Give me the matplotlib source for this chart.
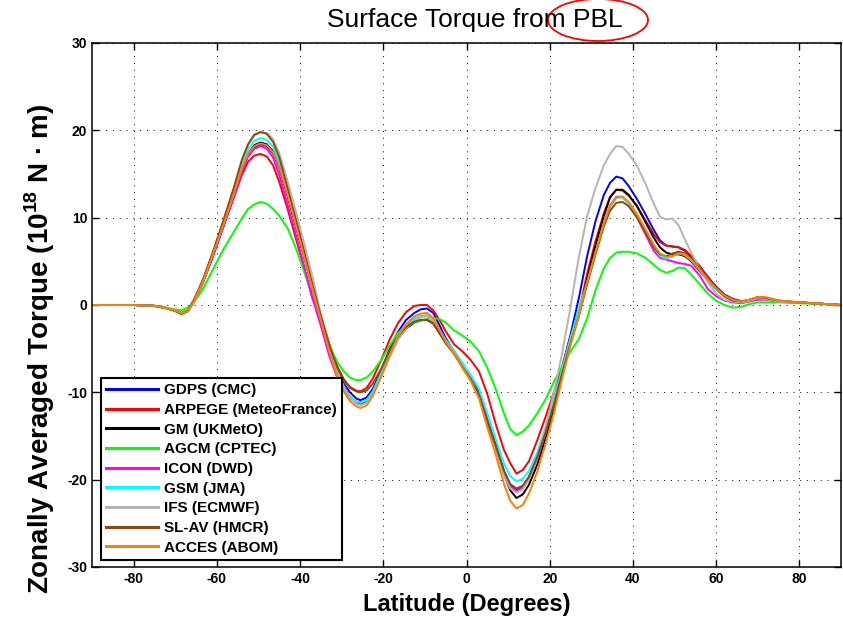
import matplotlib
matplotlib.use("Agg")
import matplotlib.pyplot as plt
from matplotlib.patches import Ellipse

plt.rcParams['font.family'] = ['Liberation Sans', 'DejaVu Sans']
plt.rcParams['mathtext.fontset'] = 'custom'
plt.rcParams['mathtext.rm'] = 'Liberation Sans:bold'
plt.rcParams['mathtext.bf'] = 'Liberation Sans:bold'

lat = [-90, -80, -75, -72, -70, -68.5, -67,
       -65.5, -63.5, -61, -58.5, -56, -54, -52.5, -51, -49.5, -48, -46.5, -45, -43, -41, -39, -37,
       -35, -33, -31, -29.5, -28, -26.5, -25.5, -24, -22.5, -20.5, -18.5, -16.5, -14.5, -12.5, -11, -9.5, -8, -6.5, -5,
       -3, -1, 1, 3, 5, 7, 9, 10.5, 12, 13.5, 15, 17, 19, 21, 23, 25, 27,
       29, 31, 33, 34.5, 36, 37.5, 39, 41, 43, 45, 46.5, 48, 49.5, 51, 52.5, 54, 56, 58,
       60, 62, 64, 66, 68, 70, 72, 75, 80, 85, 90]

gdps = [0, 0, -0.1, -0.35, -0.65, -0.95, -0.7,
        0.4, 2.4, 5.5, 8.9, 12.4, 15.4, 17.1, 18.1, 18.4, 18.2, 17.4, 15.7, 12.5, 9.0, 5.5, 1.9,
        -1.4, -4.8, -7.6, -9.0, -10.0, -10.7, -10.9, -10.6, -9.6, -7.5, -5.1, -3.1, -1.7, -0.9, -0.5, -0.4, -0.9, -2.3, -3.8,
        -5.3, -6.8, -8.2, -10.0, -13.1, -16.0, -19.0, -20.6, -21.2, -20.8, -19.7, -17.4, -14.3, -10.9, -7.1, -3.4, 0.8,
        5.6, 9.6, 12.6, 14.0, 14.7, 14.5, 13.6, 12.1, 10.4, 8.6, 7.4, 6.8, 6.7, 6.6, 6.2, 5.5, 4.4, 3.2,
        2.1, 1.2, 0.7, 0.45, 0.5, 0.8, 0.7, 0.4, 0.3, 0.15, 0]

arpege = [0, 0, -0.1, -0.35, -0.65, -0.9, -0.6,
          0.6, 2.7, 5.8, 9.0, 12.2, 14.9, 16.4, 17.1, 17.3, 17.0, 16.0, 14.1, 11.0, 7.6, 4.2, 0.7,
          -1.2, -4.4, -7.1, -8.5, -9.4, -9.8, -9.9, -9.5, -8.4, -6.3, -4.0, -2.1, -0.8, -0.1, 0.0, 0.0, -0.6, -1.7, -3.0,
          -4.5, -5.3, -6.3, -7.6, -10.2, -13.6, -16.6, -18.1, -19.3, -18.9, -17.9, -15.5, -12.8, -10.0, -7.1, -3.6, -0.8,
          3.6, 7.3, 10.5, 12.4, 13.2, 13.1, 12.5, 11.3, 9.7, 8.1, 7.2, 6.8, 6.7, 6.6, 6.3, 5.6, 4.5, 3.2,
          2.0, 1.1, 0.6, 0.4, 0.6, 0.9, 0.8, 0.5, 0.3, 0.15, 0]

gm = [0, 0, -0.1, -0.35, -0.65, -0.95, -0.7,
      0.4, 2.4, 5.6, 9.0, 12.5, 15.6, 17.3, 18.3, 18.6, 18.4, 17.6, 15.9, 12.6, 9.1, 5.6, 2.0,
      -1.6, -5.2, -7.9, -9.4, -10.5, -11.1, -11.3, -11.0, -10.0, -8.0, -5.8, -3.9, -2.7, -2.0, -1.75, -1.7, -2.1, -3.2, -4.3,
      -5.5, -7.0, -8.4, -10.3, -13.5, -16.2, -19.4, -21.2, -22.1, -21.7, -20.6, -18.3, -15.3, -12.0, -8.0, -4.3, -1.0,
      3.0, 6.8, 10.2, 12.3, 13.2, 13.2, 12.6, 11.3, 9.5, 7.7, 6.6, 6.0, 5.8, 5.8, 5.6, 5.0, 3.9, 2.8,
      1.8, 1.0, 0.5, 0.3, 0.5, 0.8, 0.7, 0.4, 0.3, 0.15, 0]

agcm = [0, 0, -0.1, -0.3, -0.5, -0.6, -0.3,
        0.3, 1.7, 4.0, 6.3, 8.3, 9.9, 11.0, 11.5, 11.8, 11.6, 11.0, 10.2, 8.8, 6.5, 3.8, 1.0,
        -1.6, -4.6, -6.6, -7.6, -8.3, -8.6, -8.6, -8.3, -7.6, -6.3, -4.7, -3.2, -2.4, -2.0, -1.8, -1.6, -1.5, -1.6, -2.0,
        -2.9, -3.5, -4.2, -5.3, -7.2, -9.6, -12.4, -14.2, -14.9, -14.5, -13.8, -12.4, -10.8, -8.8, -7.0, -5.3, -3.9,
        -1.5, 1.7, 4.2, 5.4, 6.0, 6.1, 6.1, 5.9, 5.4, 4.6, 4.0, 3.7, 3.9, 4.3, 4.2, 3.5, 2.4, 1.3,
        0.5, 0.0, -0.3, -0.2, 0.1, 0.3, 0.3, 0.3, 0.2, 0.1, 0]

icon = [0, 0, -0.1, -0.35, -0.65, -0.95, -0.7,
        0.4, 2.4, 5.5, 8.9, 12.3, 15.3, 17.0, 17.9, 18.2, 17.9, 16.9, 14.9, 11.5, 8.0, 4.4, 0.8,
        -2.4, -5.8, -8.4, -9.8, -10.7, -11.1, -11.2, -10.9, -9.9, -7.8, -5.5, -3.6, -2.4, -1.6, -1.3, -1.2, -1.8, -3.1, -4.3,
        -5.5, -7.0, -8.4, -10.3, -13.3, -16.2, -19.2, -20.7, -21.3, -20.9, -19.9, -17.6, -14.6, -11.2, -7.5, -3.9, -0.6,
        2.5, 6.0, 9.3, 11.4, 12.4, 12.4, 11.6, 10.0, 8.1, 6.2, 5.4, 5.2, 5.0, 4.8, 4.7, 4.5, 3.4, 1.8,
        1.0, 0.5, 0.3, 0.2, 0.4, 0.6, 0.6, 0.4, 0.3, 0.15, 0]

gsm = [0, 0, -0.1, -0.35, -0.65, -0.95, -0.7,
       0.4, 2.5, 5.8, 9.2, 12.8, 16.0, 17.8, 18.8, 19.1, 18.9, 18.1, 16.3, 12.9, 9.3, 5.7, 2.0,
       -1.6, -5.1, -8.0, -9.5, -10.5, -11.0, -11.2, -10.9, -9.9, -7.8, -5.5, -3.6, -2.3, -1.6, -1.3, -1.2, -1.7, -2.8, -4.0,
       -5.2, -6.6, -8.0, -9.6, -12.4, -15.3, -18.2, -19.6, -20.2, -19.9, -19.0, -16.9, -14.0, -10.8, -7.3, -3.8, -0.4,
       2.6, 6.0, 9.3, 11.3, 12.3, 12.3, 11.6, 10.2, 8.5, 6.6, 5.6, 5.3, 5.6, 5.9, 5.7, 5.1, 4.0, 2.8,
       1.8, 1.0, 0.5, 0.3, 0.5, 0.8, 0.7, 0.4, 0.3, 0.15, 0]

ifs = [0, 0, -0.1, -0.35, -0.65, -0.95, -0.7,
       0.4, 2.5, 5.8, 9.4, 13.1, 16.4, 18.3, 19.4, 19.8, 19.7, 19.0, 17.4, 14.2, 10.7, 7.0, 3.2,
       -1.1, -4.6, -7.6, -9.3, -10.6, -11.3, -11.5, -11.2, -10.2, -8.2, -6.0, -4.0, -2.7, -1.8, -1.4, -1.3, -1.8, -3.0, -4.2,
       -5.4, -6.9, -8.4, -10.3, -13.4, -16.3, -19.5, -21.0, -21.5, -21.1, -20.0, -17.5, -14.0, -10.0, -5.5, -0.2, 5.5,
       10.2, 13.4, 16.0, 17.3, 18.2, 18.1, 17.3, 15.9, 13.9, 11.6, 10.1, 9.8, 9.9, 9.1, 7.5, 6.0, 4.2, 2.6,
       1.3, 0.6, 0.4, 0.3, 0.5, 0.8, 0.7, 0.4, 0.3, 0.15, 0]

slav = [0, 0, -0.1, -0.4, -0.7, -1.05, -0.7,
        0.5, 2.7, 6.0, 9.6, 13.3, 16.6, 18.4, 19.5, 19.8, 19.6, 18.7, 16.9, 13.4, 9.8, 6.1, 2.3,
        -1.3, -4.6, -7.2, -8.6, -9.5, -9.9, -10.0, -9.8, -9.0, -7.3, -5.3, -3.6, -2.5, -1.9, -1.7, -1.7, -2.1, -3.2, -4.4,
        -5.6, -7.1, -8.5, -10.3, -13.3, -16.1, -19.0, -20.5, -21.0, -20.7, -19.7, -17.4, -14.6, -11.4, -7.8, -4.4, -1.3,
        2.4, 5.8, 9.0, 10.8, 11.7, 11.8, 11.3, 10.0, 8.3, 6.6, 5.8, 5.6, 5.9, 6.1, 5.9, 5.3, 4.2, 3.0,
        1.9, 1.0, 0.5, 0.4, 0.6, 0.9, 0.8, 0.5, 0.3, 0.15, 0]

acces = [0, 0, -0.1, -0.35, -0.65, -0.95, -0.7,
         0.4, 2.5, 5.7, 9.1, 12.6, 15.6, 17.3, 18.2, 18.5, 18.3, 17.5, 15.8, 12.6, 9.1, 5.5, 1.8,
         -1.7, -5.3, -8.3, -9.9, -11.0, -11.6, -11.8, -11.5, -10.4, -8.2, -5.8, -3.6, -2.2, -1.3, -1.0, -0.9, -1.5, -2.8, -4.2,
         -5.6, -7.2, -8.7, -10.7, -14.0, -17.1, -20.5, -22.4, -23.3, -22.9, -21.6, -19.1, -15.9, -12.4, -8.4, -4.6, -1.2,
         2.6, 6.0, 9.3, 11.3, 12.3, 12.4, 11.8, 10.4, 8.7, 6.9, 5.9, 5.5, 5.6, 5.9, 5.8, 5.2, 4.1, 2.9,
         1.9, 1.1, 0.6, 0.4, 0.6, 0.9, 0.9, 0.5, 0.3, 0.15, 0]

labels = ['GDPS (CMC)', 'ARPEGE (MeteoFrance)', 'GM (UKMetO)', 'AGCM (CPTEC)',
          'ICON (DWD)', 'GSM (JMA)', 'IFS (ECMWF)', 'SL-AV (HMCR)', 'ACCES (ABOM)']
series = [gdps, arpege, gm, agcm, icon, gsm, ifs, slav, acces]
colors = ['#0000ff', '#ff0000', '#000000', '#00ff00', '#ff00ff', '#00ffff',
          '#b4b4b4', '#8b4a0c', '#ff8000']

xticks = [-80, -60, -40, -20, 0, 20, 40, 60, 80]
yticks = [-30, -20, -10, 0, 10, 20, 30]

fig = plt.figure(figsize=(8.43, 6.18), dpi=100)
ax = fig.add_axes([92/843, 1-567/618, (841-92)/843, (567-43)/618])

for s, c, l in zip(series, colors, labels):
    ax.plot(lat, s, color=c, lw=1.4, label=l, solid_joinstyle='round')

ax.set_xlim(-90, 90)
ax.set_ylim(-30, 30)
ax.set_xticks(xticks)
ax.set_yticks(yticks)
ax.set_xticklabels([str(v) for v in xticks], fontsize=10, fontweight='bold')
ax.set_yticklabels([str(v) for v in yticks], fontsize=10, fontweight='bold')
ax.tick_params(direction='in', top=True, right=True, length=5, width=1)
ax.grid(True, color='black', lw=0.7, ls=(0, (1, 6)))
for sp in ax.spines.values():
    sp.set_linewidth(1.1)

leg = ax.legend(loc='lower left', bbox_to_anchor=(9/749, 7/524), borderaxespad=0,
                prop={'family': 'Liberation Sans', 'weight': 'bold', 'size': 11},
                fancybox=False, edgecolor='black', framealpha=1,
                handlelength=3.4, handletextpad=0.35, labelspacing=0.37,
                borderpad=0.35)
leg.get_frame().set_linewidth(1.5)
for h in leg.get_lines():
    h.set_linewidth(2.2)

fig.text(475/843, 1-20/618, 'Surface Torque from PBL', ha='center', va='center',
         fontsize=19)
fig.text(467/843, 1-604/618, 'Latitude (Degrees)', ha='center', va='center',
         fontsize=17, fontweight='bold')
fig.text(40/843, 1-349/618, r'Zonally Averaged Torque (10$^{\mathrm{18}}$ N · m)',
         ha='center', va='center', rotation=90, fontsize=20, fontweight='bold')

ell = Ellipse((598/843, 1-20/618), 100/843, 42/618, transform=fig.transFigure,
              fill=False, edgecolor='red', lw=1.3, clip_on=False)
fig.add_artist(ell)

fig.savefig('out.png', dpi=100)
